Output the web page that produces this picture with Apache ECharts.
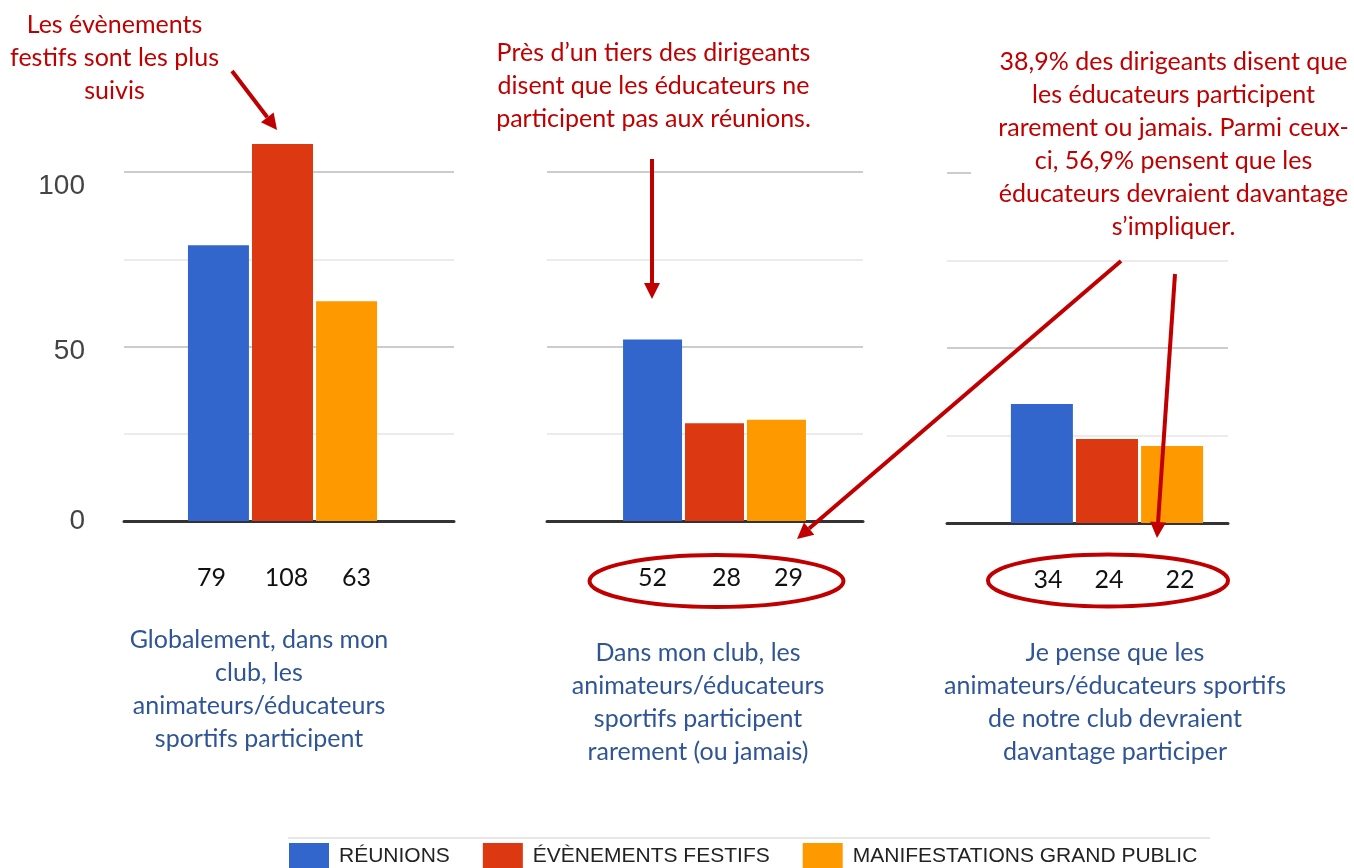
<!DOCTYPE html>
<html>
<head>
<meta charset="utf-8">
<script src="https://cdn.jsdelivr.net/npm/echarts@6/dist/echarts.min.js"></script>
<style>
  html, body { margin: 0; padding: 0; background: #fff; }
  #chart { width: 1354px; height: 868px; }
</style>
</head>
<body>
<div id="chart"></div>
<script>
// Données
const seriesNames = ["RÉUNIONS", "ÉVÈNEMENTS FESTIFS", "MANIFESTATIONS GRAND PUBLIC"];
const reunions = [79, 52, 34];
const evenements = [108, 28, 24];
const manifestations = [63, 29, 22];
const yTickLabels = [0, 50, 100];

const panelTitles = [
  "Globalement, dans mon\nclub, les\nanimateurs/éducateurs\nsportifs participent",
  "Dans mon club, les\nanimateurs/éducateurs\nsportifs participent\nrarement (ou jamais)",
  "Je pense que les\nanimateurs/éducateurs sportifs\nde notre club devraient\ndavantage participer"
];
const notes = [
  "Les évènements\nfestifs sont les plus\nsuivis",
  "Près d’un tiers des dirigeants\ndisent que les éducateurs ne\nparticipent pas aux réunions.",
  "38,9% des dirigeants disent que\nles éducateurs participent\nrarement ou jamais. Parmi ceux-\nci, 56,9% pensent que les\néducateurs devraient davantage\ns’impliquer."
];

const colors = ["#3366CC", "#DC3912", "#FF9900"];
const RED = "#C00000";
const BLUE_TXT = "#2F5597";
const FONT = "Lato, 'Open Sans', sans-serif";

// Mise en page des trois panneaux
const panels = [
  { left: 124, width: 330, top: 172, height: 349, barCenter: 282.5, barWidth: 61, labelDx: [-7, 4, 10], titleX: 259, titleY: 623 },
  { left: 547, width: 316, top: 172, height: 349, barCenter: 714.5, barWidth: 59, labelDx: [0, 12, 12], titleX: 698, titleY: 636 },
  { left: 947, width: 281, top: 173, height: 350, barCenter: 1107, barWidth: 62, labelDx: [6, 2, 8], titleX: 1115, titleY: 636 }
];

const values = [reunions, evenements, manifestations];

const grids = [], xAxes = [], yAxes = [], series = [];

// Grilles de fond (lignes de repère)
panels.forEach((p, i) => {
  grids.push({ left: p.left, width: p.width, top: p.top, height: p.height });
  xAxes.push({
    type: "category", gridIndex: i, data: [""],
    axisLine: { show: true, lineStyle: { color: "#333", width: 3 } },
    axisTick: { show: false }, axisLabel: { show: false }
  });
  yAxes.push({
    type: "value", gridIndex: i, min: 0, max: 100, interval: 50,
    axisLine: { show: false }, axisTick: { show: false },
    splitLine: { show: true, lineStyle: { color: "#cccccc", width: 2 } },
    minorTick: { show: false, splitNumber: 2 },
    minorSplitLine: { show: true, lineStyle: { color: "#ebebeb", width: 2 } },
    axisLabel: i === 0 ? {
      show: true, margin: 39, color: "#444", fontSize: 28,
      fontFamily: "'Liberation Sans', Arial, sans-serif",
      formatter: v => yTickLabels.includes(v) ? "{t" + v + "|" + v + "}" : "",
      rich: {
        t100: { fontSize: 28, color: "#444", padding: [28, 0, 0, 0] },
        t50: { fontSize: 28, color: "#444", padding: [10, 0, 0, 0] },
        t0: { fontSize: 28, color: "#444" }
      }
    } : { show: false }
  });
});

// Grilles des barres
panels.forEach((p, i) => {
  const gi = i + 3;
  grids.push({ left: p.barCenter - 120, width: 240, top: p.top, height: p.height });
  xAxes.push({ type: "category", gridIndex: gi, data: [""], show: false });
  yAxes.push({ type: "value", gridIndex: gi, min: 0, max: 100, show: false, splitLine: { show: false } });
  values.forEach((arr, s) => {
    series.push({
      type: "bar",
      name: seriesNames[s],
      xAxisIndex: gi,
      yAxisIndex: gi,
      data: [arr[i]],
      barWidth: p.barWidth,
      barGap: "5%",
      clip: false,
      itemStyle: { color: colors[s] },
      label: {
        show: true, position: "bottom", distance: 44,
        offset: [p.labelDx[s], 0],
        color: "#111", fontSize: 25, fontFamily: FONT
      },
      emphasis: { disabled: true }
    });
  });
});

// Flèches
function arrow(x1, y1, x2, y2) {
  const L = 16, W = 16;
  const dx = x2 - x1, dy = y2 - y1;
  const len = Math.sqrt(dx * dx + dy * dy);
  const ux = dx / len, uy = dy / len;
  const bx = x2 - ux * L, by = y2 - uy * L;
  const nx = -uy, ny = ux;
  return [
    { type: "line", z: 20, shape: { x1: x1, y1: y1, x2: bx, y2: by }, style: { stroke: RED, lineWidth: 4 } },
    { type: "polygon", z: 20, shape: { points: [[x2, y2], [bx + nx * W / 2, by + ny * W / 2], [bx - nx * W / 2, by - ny * W / 2]] }, style: { fill: RED } }
  ];
}

function textEl(txt, x, y, color) {
  return {
    type: "text", z: 15, x: x, y: y,
    style: {
      text: txt, fill: color, fontSize: 25, fontFamily: FONT,
      align: "center", verticalAlign: "top", lineHeight: 33
    }
  };
}

const graphics = [
  // cache blanc sous l'annotation de droite
  { type: "rect", z: 10, shape: { x: 971, y: 165, width: 262, height: 14 }, style: { fill: "#fff" } },
  // filet gris au-dessus de la légende
  { type: "line", z: 1, shape: { x1: 288, y1: 838, x2: 1210, y2: 838 }, style: { stroke: "#e6e6e6", lineWidth: 2 } },
  textEl(notes[0], 114.5, 8.5, RED),
  textEl(notes[1], 653.5, 36, RED),
  textEl(notes[2], 1173.5, 45, RED),
  ...panelTitles.map((t, i) => textEl(t, panels[i].titleX, panels[i].titleY, BLUE_TXT)),
  ...arrow(232, 71, 277, 130),
  ...arrow(652, 159, 652, 299),
  ...arrow(1121, 261, 797, 539),
  ...arrow(1175, 274, 1157, 538),
  { type: "ellipse", z: 20, shape: { cx: 716.5, cy: 581, rx: 127, ry: 26 }, style: { stroke: RED, lineWidth: 4, fill: null } },
  { type: "ellipse", z: 20, shape: { cx: 1108, cy: 580.5, rx: 120, ry: 26 }, style: { stroke: RED, lineWidth: 4, fill: null } }
];

const chart = echarts.init(document.getElementById("chart"));
chart.setOption({
  animation: false,
  backgroundColor: "#fff",
  grid: grids,
  xAxis: xAxes,
  yAxis: yAxes,
  series: series,
  legend: {
    data: seriesNames,
    left: 289, top: 843, padding: 0,
    itemWidth: 40, itemHeight: 26, itemGap: 33,
    icon: "rect",
    textStyle: {
      fontSize: 21, color: "#222",
      fontFamily: "'Liberation Sans Narrow', 'Arial Narrow', 'Liberation Sans', sans-serif",
      padding: [0, 0, 0, 5]
    }
  },
  graphic: graphics
});
</script>
</body>
</html>
